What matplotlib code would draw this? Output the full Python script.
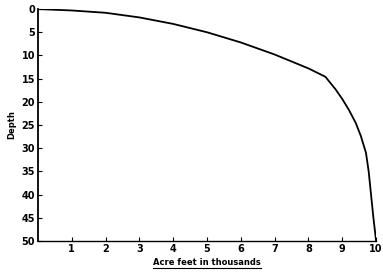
import matplotlib
matplotlib.use("Agg")
from matplotlib import pyplot as plt
from matplotlib.lines import Line2D

# Storage curve
acre_feet = [0, 1, 2, 3, 4, 5, 6, 7, 8, 8.5, 8.8, 9, 9.2, 9.4, 9.55, 9.7, 9.78, 9.85, 9.92, 10]
depth = [0, 0.3, 0.8, 1.8, 3.2, 5.0, 7.2, 9.8, 12.8, 14.6, 17.3, 19.4, 21.8, 24.6, 27.4, 31, 35, 40, 45, 50]

x_ticks = [1, 2, 3, 4, 5, 6, 7, 8, 9, 10]
y_ticks = [0, 5, 10, 15, 20, 25, 30, 35, 40, 45, 50]

plt.rcParams.update({'font.size': 7, 'font.weight': 'bold'})
f = plt.figure(figsize=(3.83, 2.75), dpi=100)
ax = f.add_axes([0.099, 0.124, 0.883, 0.843])

ax.plot(acre_feet, depth, color='k', lw=1.3)

ax.set_xlim(0, 10)
ax.set_ylim(50, 0)
ax.set_xticks(x_ticks)
ax.set_yticks(y_ticks)
ax.tick_params(direction='in', length=3, width=0.8, pad=2)

# Only left and bottom spines
ax.spines['top'].set_visible(False)
ax.spines['right'].set_visible(False)
ax.spines['left'].set_linewidth(1.3)
ax.spines['bottom'].set_linewidth(1.0)

ax.set_ylabel("Depth", fontsize=6, fontweight='bold', labelpad=4)
ax.set_xlabel("Acre feet in thousands", fontsize=6, fontweight='bold', labelpad=3)

# Underline the x label like the original
f.canvas.draw()
bb = ax.xaxis.label.get_window_extent()
fw, fh = f.get_size_inches() * f.dpi
f.add_artist(Line2D([bb.x0 / fw, bb.x1 / fw], [(bb.y0 - 1) / fh, (bb.y0 - 1) / fh],
                    color='k', lw=0.8))

plt.savefig("out.png", dpi=100)
